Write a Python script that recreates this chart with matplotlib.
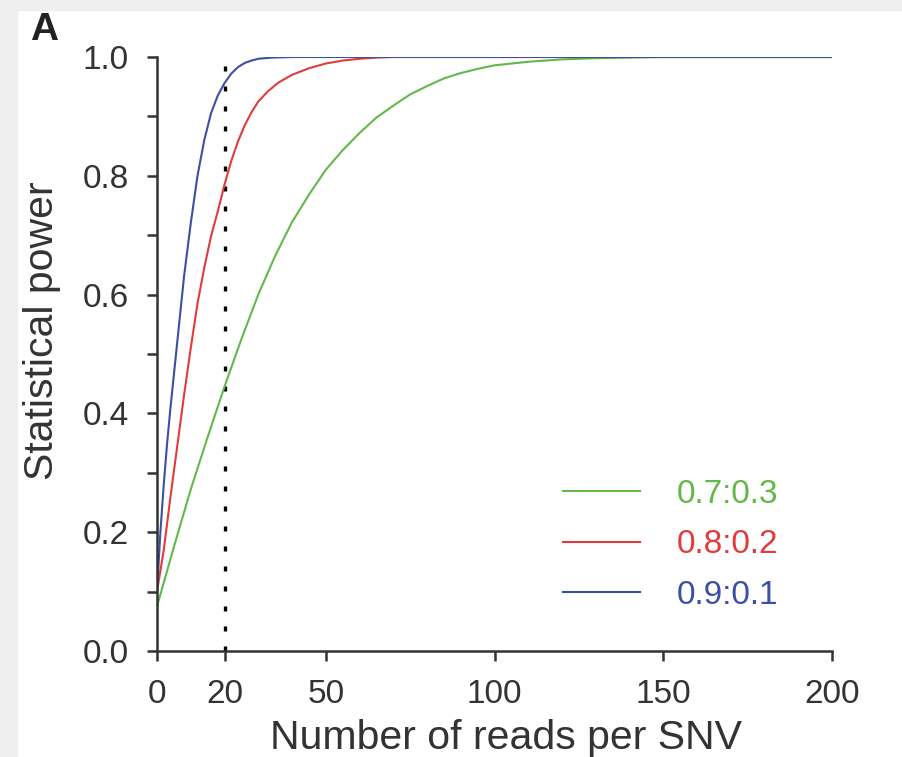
import matplotlib
matplotlib.use("Agg")
import matplotlib.pyplot as plt
from matplotlib.patches import Rectangle

# ============================================================
# DATA
# ============================================================

labels = ["0.7:0.3", "0.8:0.2", "0.9:0.1"]

reads_green = [0, 5, 10, 15, 20, 25, 30, 35, 40, 45, 50, 55, 60, 65, 70, 75,
               80, 85, 90, 95, 100, 110, 120, 130, 140, 150, 200]
power_green = [0.075, 0.175, 0.272, 0.36, 0.445, 0.525, 0.60, 0.665, 0.722,
               0.768, 0.81, 0.843, 0.872, 0.898, 0.918, 0.937, 0.951, 0.964,
               0.973, 0.980, 0.986, 0.992, 0.996, 0.998, 0.999, 1.0, 1.0]

reads_red = [0, 2, 4, 6, 8, 10, 12, 14, 16, 18, 20, 22, 24, 26, 28, 30, 33,
             36, 40, 45, 50, 55, 60, 65, 70, 200]
power_red = [0.10, 0.17, 0.26, 0.345, 0.43, 0.51, 0.585, 0.645, 0.698, 0.74,
             0.785, 0.825, 0.858, 0.885, 0.907, 0.925, 0.943, 0.957, 0.970,
             0.981, 0.989, 0.994, 0.997, 0.999, 1.0, 1.0]

reads_blue = [0, 1, 2, 3, 4, 6, 8, 10, 12, 14, 16, 18, 20, 22, 24, 26, 28,
              30, 34, 40, 200]
power_blue = [0.10, 0.20, 0.28, 0.35, 0.41, 0.52, 0.63, 0.72, 0.80, 0.86,
              0.905, 0.935, 0.956, 0.972, 0.983, 0.99, 0.994, 0.997, 0.999,
              1.0, 1.0]

x_ticks = [0, 20, 50, 100, 150, 200]
y_ticks = [0.0, 0.2, 0.4, 0.6, 0.8, 1.0]
cutoff = 20

colors = ["#62b84a", "#e23b3b", "#3c4fa5"]

# ============================================================
# PLOT
# ============================================================

plt.rcParams["font.family"] = ["Liberation Sans", "DejaVu Sans"]
txt = "#333333"

fig = plt.figure(figsize=(9.02, 7.57), dpi=100)
W, H = 902, 757

# light grey page border (top and left)
fig.patches.append(Rectangle((0, 1 - 10 / H), 1, 10 / H, transform=fig.transFigure,
                             color="#efefef", zorder=0))
fig.patches.append(Rectangle((0, 0), 17 / W, 1, transform=fig.transFigure,
                             color="#efefef", zorder=0))

ax = fig.add_axes([157 / W, 1 - 651 / H, (832 - 157) / W, (651 - 57) / H])
ax.set_facecolor("none")

ax.plot(reads_green, power_green, color=colors[0], lw=1.5, label=labels[0])
ax.plot(reads_red, power_red, color=colors[1], lw=1.5, label=labels[1])
ax.plot(reads_blue, power_blue, color=colors[2], lw=1.5, label=labels[2])

ax.plot([cutoff, cutoff], [0, 1], color="black", lw=2.4,
        linestyle=(0, (1.5, 4.5)), zorder=1)

ax.set_xlim(0, 200)
ax.set_ylim(0, 1)

for s in ["top", "right"]:
    ax.spines[s].set_visible(False)
for s in ["left", "bottom"]:
    ax.spines[s].set_linewidth(1.8)
    ax.spines[s].set_color("#333333")

ax.set_xticks(x_ticks)
ax.set_xticklabels([str(v) for v in x_ticks])
ax.set_yticks(y_ticks)
ax.set_yticklabels([f"{v:.1f}" for v in y_ticks])
ax.set_yticks([0.1, 0.3, 0.5, 0.7, 0.9], minor=True)

ax.tick_params(axis="both", which="both", direction="out", length=7.5,
               width=1.8, color="#333333", labelsize=24, labelcolor=txt)
ax.tick_params(axis="y", which="major", pad=13)
ax.tick_params(axis="x", which="major", pad=13)

ax.set_xlabel("Number of reads per SNV", fontsize=29.5, color=txt)
ax.set_ylabel("Statistical power", fontsize=29.5, color=txt)
ax.xaxis.set_label_coords((506 - 157) / 675, (651 - 749) / 594)
ax.xaxis.label.set_va("baseline")
ax.yaxis.set_label_coords((53 - 157) / 675, (651 - 331) / 594)
ax.yaxis.label.set_va("baseline")

leg = ax.legend(loc="upper left", frameon=False, fontsize=24,
                handlelength=2.3, handletextpad=1.1, labelspacing=0.58,
                borderpad=0, borderaxespad=0,
                bbox_to_anchor=(563 / W, 1 - 479 / H),
                bbox_transform=fig.transFigure)
for t, c in zip(leg.get_texts(), colors):
    t.set_color(c)

fig.text(30 / W, 1 - 12 / H, "A", fontsize=28, fontweight="bold",
         color="#222222", ha="left", va="top")

fig.savefig("out.png", dpi=100)
